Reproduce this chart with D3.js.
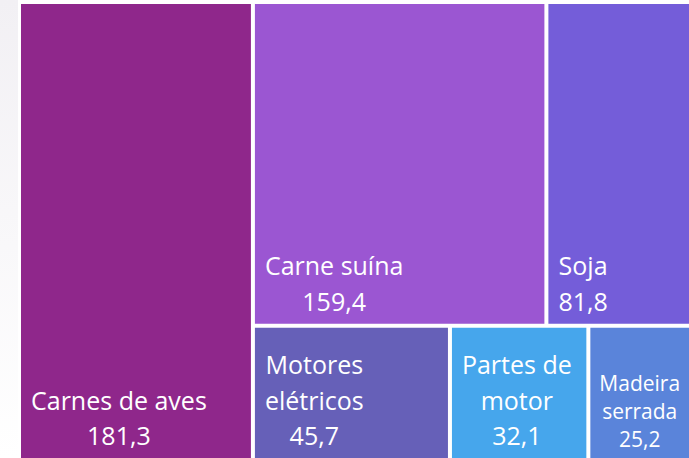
<!DOCTYPE html>
<html>
<head>
<meta charset="utf-8">
<script src="https://cdn.jsdelivr.net/npm/d3@7"></script>
<style>
  body { margin: 0; background: #fff; }
  svg { display: block; }
</style>
</head>
<body>
<svg id="chart"></svg>
<script>
// Export products (values as shown on the tiles)
var categories = ["Carnes de aves", "Carne suína", "Soja", "Motores elétricos", "Partes de motor", "Madeira serrada"];
var values = [181.3, 159.4, 81.8, 45.7, 32.1, 25.2];
// which block of the treemap each tile sits in: 0 = own column, 1 = top row, 2 = bottom row
var blockOf = [0, 1, 1, 2, 2, 2];
var colors = ["#8f278b", "#9b56d2", "#745dd9", "#6660b8", "#46a6ec", "#5a84da"];

var width = 689, height = 458;
var margin = { top: 4, left: 21 };
// the treemap runs a little past the right and bottom edges of the window
var mapW = 674, mapH = 458;

var svg = d3.select("#chart")
  .attr("width", width)
  .attr("height", height);

// light strip on the left
var grad = svg.append("defs").append("linearGradient")
  .attr("id", "side").attr("x1", 0).attr("y1", 0).attr("x2", 0).attr("y2", 1);
grad.append("stop").attr("offset", "0%").attr("stop-color", "#f2f0f4");
grad.append("stop").attr("offset", "100%").attr("stop-color", "#ffffff");
svg.append("rect").attr("width", 18).attr("height", height).attr("fill", "url(#side)");

// build the nested table d3.hierarchy needs
var items = categories.map(function(c, i) {
  return { name: c, value: values[i], color: colors[i], block: blockOf[i] };
});
var tree = {
  name: "root",
  children: [
    items[0],
    { name: "rest", children: [
      { name: "top", children: items.filter(function(d) { return d.block === 1; }) },
      { name: "bottom", children: items.filter(function(d) { return d.block === 2; }) }
    ] }
  ]
};

var root = d3.hierarchy(tree).sum(function(d) { return d.children ? 0 : d.value; });

d3.treemap()
  .tile(d3.treemapSliceDice)
  .size([mapW, mapH])
  .paddingInner(4)(root);

var g = svg.append("g")
  .attr("transform", "translate(" + margin.left + "," + margin.top + ")");

var leaf = g.selectAll(".tile")
  .data(root.leaves())
  .enter().append("g")
  .attr("class", "tile");

leaf.append("rect")
  .attr("x", function(d) { return d.x0; })
  .attr("y", function(d) { return d.y0; })
  .attr("width", function(d) { return d.x1 - d.x0; })
  .attr("height", function(d) { return d.y1 - d.y0; })
  .attr("fill", function(d) { return d.data.color; });

var fmt = function(v) { return d3.format(".1f")(v).replace(".", ","); };

leaf.each(function(d) {
  var tile = d3.select(this);
  var w = d.x1 - d.x0;
  var small = w < 120;
  var size = small ? 21 : 25;
  var lineH = small ? 28 : 35.5;
  var maxW = w - 18;

  var label = tile.append("text")
    .attr("fill", "#fff")
    .style("font-family", "'Open Sans', 'Noto Sans', sans-serif")
    .style("font-size", size + "px")
    .attr("text-anchor", "middle");

  // simple greedy word wrap
  var words = d.data.name.split(" ");
  var lines = [], cur = "";
  var probe = label.append("tspan");
  words.forEach(function(word) {
    var test = cur ? cur + " " + word : word;
    probe.text(test);
    if (cur && probe.node().getComputedTextLength() > maxW) {
      lines.push(cur);
      cur = word;
    } else {
      cur = test;
    }
  });
  lines.push(cur);
  lines.push(fmt(d.data.value));

  var blockW = 0;
  lines.forEach(function(l) {
    probe.text(l);
    blockW = Math.max(blockW, probe.node().getComputedTextLength());
  });
  probe.remove();

  var bottom = Math.min(d.y1, height - margin.top);
  var lastBase = bottom - (small ? 11 : 13);
  var cx = d.x0 + (small ? 9 : 10) + blockW / 2;

  lines.forEach(function(l, i) {
    label.append("tspan")
      .attr("x", cx)
      .attr("y", lastBase - (lines.length - 1 - i) * lineH)
      .text(l);
  });
});
</script>
</body>
</html>
